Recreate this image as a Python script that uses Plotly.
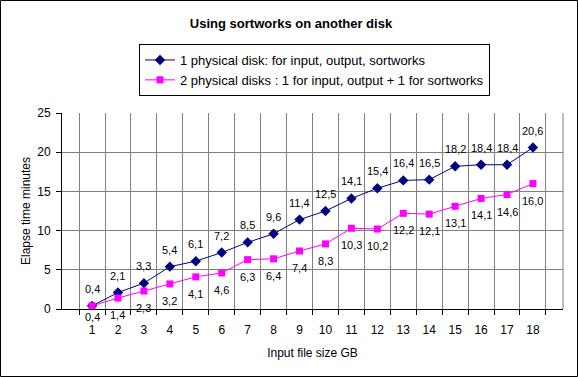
import plotly.graph_objects as go

categories = [str(i) for i in range(1, 19)]
one_disk = [0.4, 2.1, 3.3, 5.4, 6.1, 7.2, 8.5, 9.6, 11.4, 12.5, 14.1, 15.4, 16.4, 16.5, 18.2, 18.4, 18.4, 20.6]
two_disks = [0.4, 1.4, 2.3, 3.2, 4.1, 4.6, 6.3, 6.4, 7.4, 8.3, 10.3, 10.2, 12.2, 12.1, 13.1, 14.1, 14.6, 16.0]
y_ticks = [0, 5, 10, 15, 20, 25]

W, H = 578, 377
L, R, T, B = 62, 15, 113, 68
FONT = "Arial, Liberation Sans, sans-serif"
pw = W - L - R
ph = H - T - B
Y_MAX = 25
LABEL_GAP = 17      # px between point and label centre
FLOOR_BELOW_AXIS = 8  # lowest label centre, px below the x axis


def fmt(v):
    return f"{v:.1f}".replace(".", ",")


fig = go.Figure()
fig.add_trace(go.Scatter(
    x=categories, y=one_disk, mode="lines+markers",
    name="1 physical disk: for input, output, sortworks",
    line=dict(color="#000080", width=1),
    marker=dict(symbol="diamond", size=8, color="#000080"),
))
fig.add_trace(go.Scatter(
    x=categories, y=two_disks, mode="lines+markers",
    name="2 physical disks : 1 for input, output + 1 for sortworks",
    line=dict(color="#FF00FF", width=1),
    marker=dict(symbol="square", size=7, color="#FF00FF"),
))

# data labels (x given as category index on the category axis)
for i, v in enumerate(one_disk):
    fig.add_annotation(x=i, y=v, text=fmt(v), showarrow=False, yshift=LABEL_GAP,
                       font=dict(family=FONT, size=11, color="black"))
for i, v in enumerate(two_disks):
    above_axis = v / Y_MAX * ph            # px from point down to the axis
    shift = min(LABEL_GAP, above_axis + FLOOR_BELOW_AXIS)
    fig.add_annotation(x=i, y=v, text=fmt(v), showarrow=False, yshift=-shift,
                       font=dict(family=FONT, size=11, color="black"))

# outer frame
fig.add_shape(type="rect", xref="paper", yref="paper",
              x0=(0.5 - L) / pw, x1=(W - 0.5 - L) / pw,
              y0=(ph + T - (H - 0.5)) / ph, y1=(ph + T - 0.5) / ph,
              line=dict(color="black", width=1))
# right plot edge
fig.add_shape(type="line", xref="paper", yref="paper", x0=1, x1=1, y0=0, y1=1,
              line=dict(color="#808080", width=1))

fig.update_layout(
    width=W, height=H,
    margin=dict(l=L, r=R, t=T, b=B, autoexpand=False),
    paper_bgcolor="white", plot_bgcolor="white",
    font=dict(family=FONT, size=12, color="black"),
    title=dict(text="<b>Using sortworks on another disk</b>", x=(291 - L) / pw, xref="paper",
               xanchor="center", y=1 - 23 / H, yanchor="middle",
               font=dict(family=FONT, size=13, color="black")),
    showlegend=True,
    legend=dict(x=(139 - L) / pw, y=(ph + T - 44) / ph, xanchor="left", yanchor="top",
                bordercolor="black", borderwidth=1, bgcolor="white",
                font=dict(family=FONT, size=13, color="black"),
                tracegroupgap=0, itemwidth=30),
    xaxis=dict(type="category", tickson="boundaries", ticks="outside", ticklen=5,
               tickcolor="black", showline=True, linecolor="black", linewidth=1,
               showgrid=True, gridcolor="#808080", gridwidth=1, automargin=False,
               ticklabelstandoff=10,
               title=dict(text="Input file size GB", standoff=12,
                          font=dict(family=FONT, size=12)),
               tickfont=dict(family=FONT, size=12)),
    yaxis=dict(range=[0, Y_MAX], tickvals=y_ticks, ticks="outside", ticklen=5,
               tickcolor="black", showline=True, linecolor="black", linewidth=1,
               showgrid=True, gridcolor="#808080", gridwidth=1, zeroline=False,
               automargin=False, ticklabelstandoff=3,
               title=dict(text="Elapse time minutes", standoff=4,
                          font=dict(family=FONT, size=12)),
               tickfont=dict(family=FONT, size=12)),
)

fig.write_html("out.html", config={"displayModeBar": False},
               post_script="document.body.style.margin='0';")
